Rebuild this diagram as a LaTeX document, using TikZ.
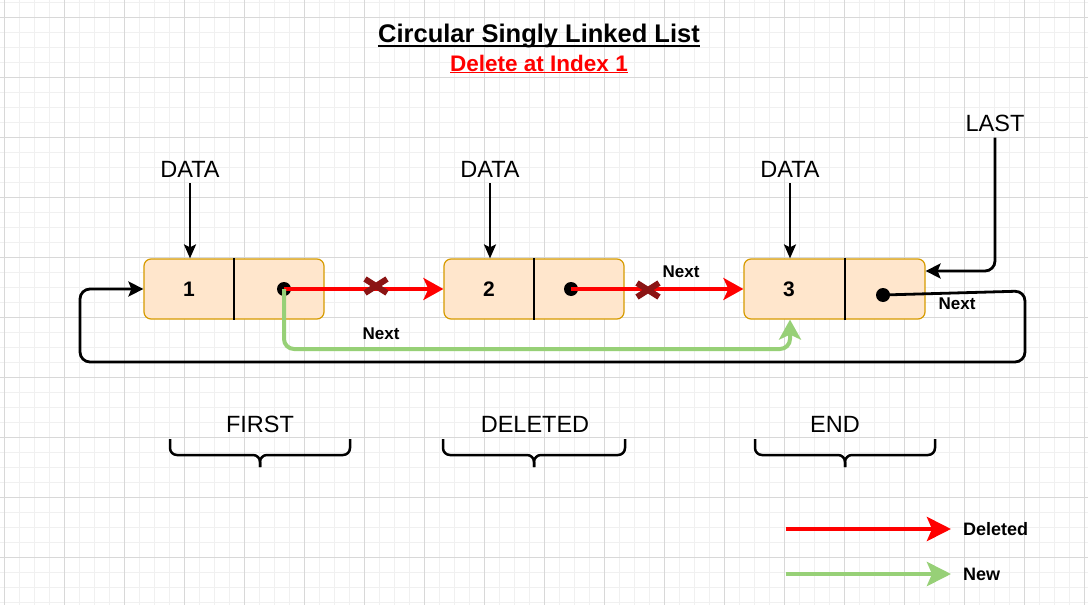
\documentclass[tikz,border=0pt]{standalone}
\usepackage{fontspec}
\setmainfont{Liberation Sans}
\usetikzlibrary{arrows.meta}

\definecolor{nodefill}{HTML}{FFE6CC}
\definecolor{nodeborder}{HTML}{D79B00}
\definecolor{delred}{HTML}{FF0000}
\definecolor{newgreen}{HTML}{97D077}
\definecolor{crossred}{HTML}{8B1414}
\definecolor{gridminor}{HTML}{F0F0F0}
\definecolor{gridmajor}{HTML}{D8D8D8}

\tikzset{
  listnode/.style={draw=nodeborder, fill=nodefill, line width=1.2pt, rounded corners=7pt,
    minimum width=180pt, minimum height=60pt, inner sep=0pt},
  numtext/.style={font=\fontsize{21}{25}\selectfont\bfseries},
  plain/.style={font=\fontsize{23.5}{28}\selectfont, inner sep=0pt},
  nexttext/.style={font=\fontsize{17}{20}\selectfont\bfseries, inner sep=0pt},
  dot/.style={circle, fill=black, minimum size=14pt, inner sep=0pt},
  delarrow/.style={delred, line width=4pt, -{Stealth[length=20pt,width=22pt,inset=5pt]}},
  newarrow/.style={newgreen, line width=4pt, rounded corners=10pt, -{Stealth[length=20pt,width=22pt,inset=5pt]}},
  blackarrow/.style={black, line width=2.8pt, rounded corners=10pt, -{Stealth[length=15pt,width=15pt,inset=3pt]}},
  xmark/.style={crossred, line width=6pt},
  bracestyle/.style={black, line width=2.5pt, rounded corners=7pt}
}

\begin{document}
\begin{tikzpicture}[x=1pt, y=-1pt]
    \useasboundingbox (0,0) rectangle (1088,605);
    \fill[white] (0,0) rectangle (1088,605);

    % Background grid
    \foreach \gx in {4,19,...,1088} \draw[gridminor, line width=1pt] (\gx,0) -- (\gx,605);
    \foreach \gy in {2,17,...,605} \draw[gridminor, line width=1pt] (0,\gy) -- (1088,\gy);
    \foreach \gx in {4,64,...,1088} \draw[gridmajor, line width=1pt] (\gx,0) -- (\gx,605);
    \foreach \gy in {17,77,...,605} \draw[gridmajor, line width=1pt] (0,\gy) -- (1088,\gy);

    % Title
    \node[anchor=base, inner sep=0pt, font=\fontsize{25.5}{30}\selectfont\bfseries] (title) at (539,42) {Circular Singly Linked List};
    \draw[line width=1.8pt] ([yshift=-4pt]title.base west) -- ([yshift=-4pt]title.base east);
    \node[anchor=base, inner sep=0pt, delred, font=\fontsize{22.5}{27}\selectfont\bfseries] (subtitle) at (539,71) {\underline{Delete at Index 1}};

    % List nodes
    \node[listnode] (n1) at (234,289) {};
    \node[listnode] (n2) at (534,289) {};
    \node[listnode, minimum width=181pt] (n3) at (834.5,289) {};
    \coordinate (div3) at (845,0);
    \draw[line width=1.2pt] (n1.north) -- (n1.south);
    \draw[line width=1.2pt] (n2.north) -- (n2.south);
    \draw[line width=1.2pt] (n3.north -| div3) -- (n3.south -| div3);
    \node[numtext] (v1) at (189,289) {1};
    \node[numtext] (v2) at (489,289) {2};
    \node[numtext] (v3) at (789,289) {3};
    \node[dot] (d1) at (284,289) {};
    \node[dot] (d2) at (571,289) {};
    \node[dot] (d3) at (883,295) {};

    % DATA pointers
    \node[plain] (dat1) at (190,169) {DATA};
    \node[plain] (dat2) at (490,169) {DATA};
    \node[plain] (dat3) at (790,169) {DATA};
    \foreach \i in {1,2,3}
      \draw[blackarrow, line width=2.5pt, -{Stealth[length=14pt,width=12pt,inset=3pt]}] ([yshift=-6pt]dat\i.south) -- (dat\i.south |- n\i.north);

    % LAST pointer
    \node[plain] (last) at (995,123) {LAST};
    \coordinate (lastc) at (995,271);
    \draw[blackarrow] ([yshift=-6pt]last.south) -- (lastc) -- (n3.east |- lastc);

    % Old links (deleted)
    \draw[delarrow] (d1.center) -- (n2.west);
    \draw[delarrow] (d2.center) -- (n3.west);
    \coordinate (x1) at (376,286);
    \coordinate (x2) at (648,290);
    \foreach \c in {x1,x2} {
      \draw[xmark] ([shift={(-11,-7)}]\c) -- ([shift={(11,7)}]\c);
      \draw[xmark] ([shift={(-11,7)}]\c) -- ([shift={(11,-7)}]\c);
    }
    \node[nexttext] (next2) at (681,272) {Next};

    % New link
    \coordinate (g1) at (284,349);
    \coordinate (g2) at (790,349);
    \draw[newarrow] (d1.center) -- (g1) -- (g2) -- (g2 |- n3.south);
    \node[nexttext] (next1) at (381,334) {Next};

    % Circular link back to first
    \coordinate (l1) at (1025,291);
    \coordinate (l2) at (1025,362);
    \coordinate (l3) at (80,362);
    \coordinate (l4) at (80,289);
    \draw[blackarrow] (d3.center) -- (l1) -- (l2) -- (l3) -- (l4) -- (n1.west);
    \node[nexttext] (next3) at (957,304) {Next};

    % Braces
    \node[plain] (first) at (260,424) {FIRST};
    \node[plain] (deleted) at (535,424) {DELETED};
    \node[plain] (endl) at (835,424) {END};
    \foreach \l/\r/\m in {170/350/260, 443/625/534, 755/935/845} {
      \draw[bracestyle] (\l,439) |- (\m,455) -- (\m,467);
      \draw[bracestyle] (\r,439) |- (\m,455) -- (\m,467);
    }

    % Legend
    \coordinate (rs) at (786,529);
    \coordinate (re) at (951,529);
    \coordinate (gs) at (786,574);
    \coordinate (ge) at (951,574);
    \draw[delarrow, line width=4.5pt, -{Stealth[length=24pt,width=24pt,inset=5pt]}] (rs) -- (re);
    \draw[newarrow, line width=4.5pt, -{Stealth[length=24pt,width=24pt,inset=5pt]}] (gs) -- (ge);
    \node[nexttext, font=\fontsize{18}{21}\selectfont\bfseries, anchor=west] (legdel) at (963,529) {Deleted};
    \node[nexttext, font=\fontsize{18}{21}\selectfont\bfseries, anchor=west] (legnew) at (963,574) {New};
\end{tikzpicture}
\end{document}
